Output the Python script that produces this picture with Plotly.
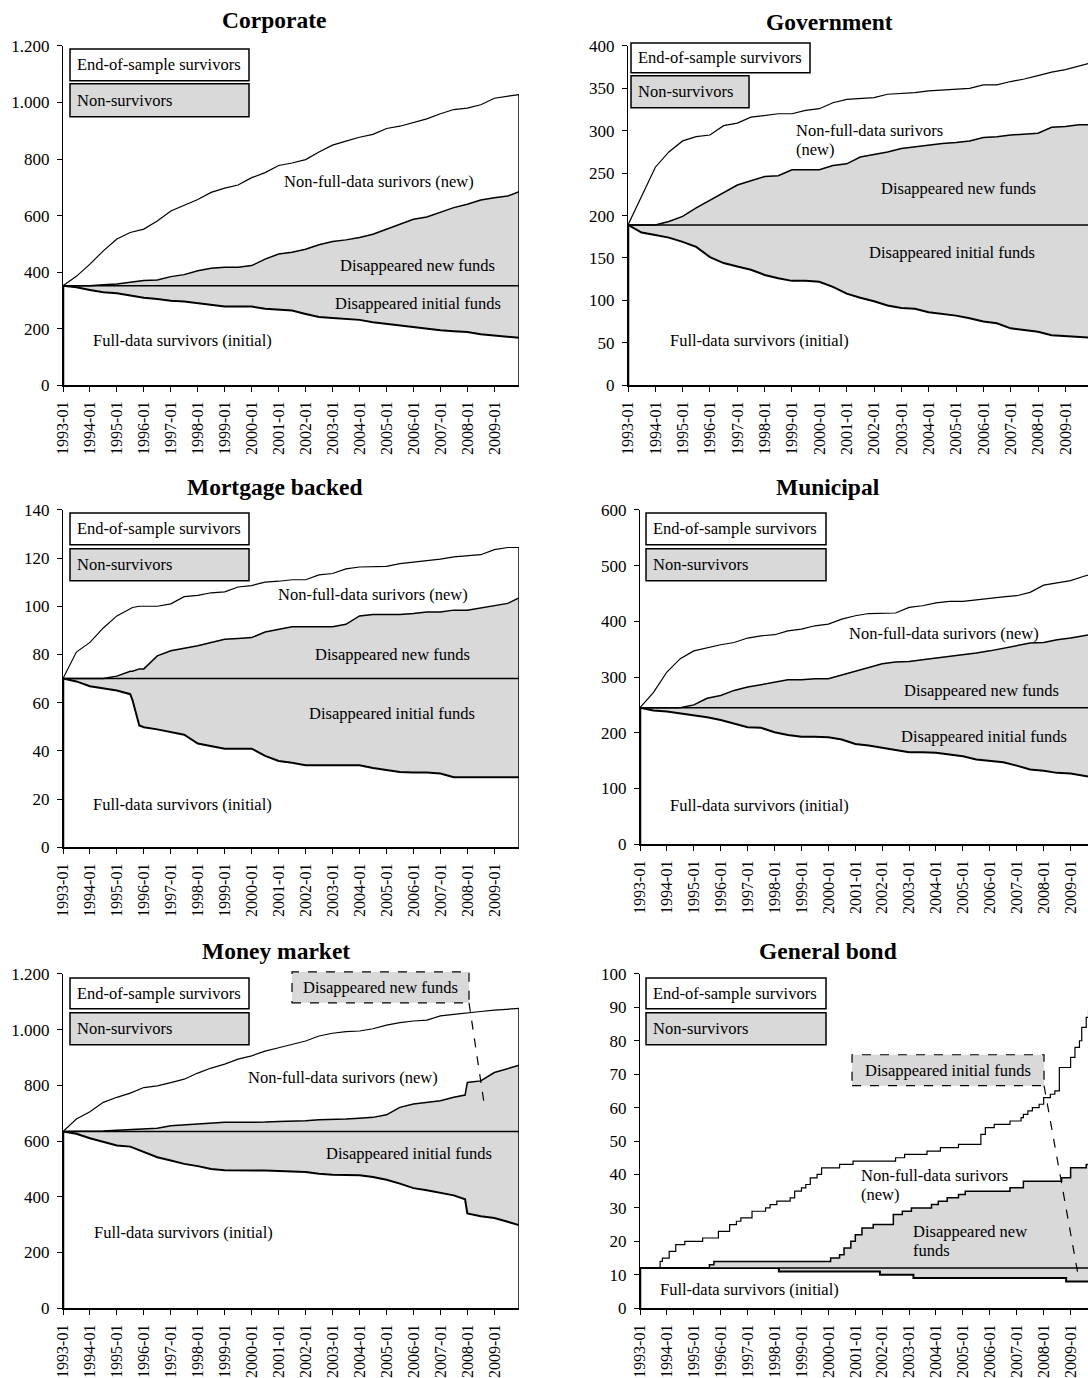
import plotly.graph_objects as go

W, H = 1088, 1378
FONT = "Liberation Serif"
GREY = "#d9d9d9"

# ---------------- shared categories ----------------
HALF_DATES = [f"{y}-{m:02d}" for y in range(1993, 2010) for m in (1, 7)] + ["2009-12"]
TICK_YEARS = list(range(1993, 2010))
TICK_DATES = [f"{y}-01-01" for y in TICK_YEARS]
TICK_TEXT = [f"{y}-01" for y in TICK_YEARS]

# ---------------- Corporate ----------------
CORP_DATES = HALF_DATES
CORP_INITIAL = 352
CORP_TOP = [352, 385, 428, 475, 517, 540, 552, 581, 616, 637, 657, 682, 697, 708, 734, 752, 777,
            786, 798, 825, 849, 863, 877, 887, 908, 916, 928, 942, 960, 975, 980, 992, 1015, 1022, 1028]
CORP_MID = [352, 352, 352, 355, 358, 364, 370, 372, 384, 391, 405, 414, 417, 417, 423, 446, 464,
            470, 481, 497, 508, 514, 522, 534, 552, 569, 587, 595, 611, 628, 640, 655, 663, 669, 684]
CORP_LOW = [352, 346, 337, 329, 325, 317, 309, 305, 299, 296, 290, 282, 278, 278, 278, 270, 268,
            264, 252, 241, 238, 235, 231, 223, 217, 211, 205, 200, 194, 191, 188, 180, 176, 170, 168]
CORP_YTICKS = [0, 200, 400, 600, 800, 1000, 1200]
CORP_YTEXT = ["0", "200", "400", "600", "800", "1.000", "1.200"]

# ---------------- Government ----------------
GOV_DATES = HALF_DATES
GOV_INITIAL = 189
GOV_TOP = [189, 222, 257, 275, 288, 293, 295, 306, 309, 316, 318, 320, 320, 324, 326, 333, 337,
           338, 339, 343, 344, 345, 347, 348, 349, 350, 354, 354, 358, 361, 365, 369, 372, 376, 380]
GOV_MID = [189, 189, 189, 193, 199, 209, 218, 227, 236, 241, 246, 247, 254, 254, 254, 259, 261,
           269, 272, 275, 279, 281, 283, 285, 286, 288, 292, 293, 295, 296, 297, 304, 305, 307, 307]
GOV_LOW = [189, 180, 177, 174, 169, 163, 151, 144, 140, 136, 130, 126, 123, 123, 122, 116, 108,
           103, 99, 94, 91, 90, 86, 84, 82, 79, 75, 73, 67, 65, 63, 59, 58, 57, 56]
GOV_YTICKS = [0, 50, 100, 150, 200, 250, 300, 350, 400]
GOV_YTEXT = ["0", "50", "100", "150", "200", "250", "300", "350", "400"]

# ---------------- Mortgage backed ----------------
MBS_DATES = HALF_DATES[:6] + ["1995-08", "1995-11"] + HALF_DATES[6:]
MBS_INITIAL = 70
MBS_TOP = [70, 81, 85, 91, 96, 99, 99.5, 100, 100, 100, 101, 104, 104.5, 105.6, 106, 108, 108.6,
           110, 110.4, 111, 111, 113, 113.6, 115.5, 116.3, 116.3, 116.6, 117.7, 118.3, 118.7,
           119.6, 120.5, 121, 121.4, 123.5, 124.4, 124.4]
MBS_MID = [70, 70, 70, 70, 71, 73, 73, 74, 74, 79.4, 81.5, 82.5, 83.6, 85, 86.3, 86.6, 87, 89.3,
           90.4, 91.5, 91.5, 91.5, 91.5, 92.5, 96, 96.6, 96.6, 96.6, 97, 97.6, 97.6, 98.4, 98.4,
           99.4, 100.4, 101.2, 103.5]
MBS_LOW = [70, 68.8, 66.8, 66, 65, 63.5, 61, 50.5, 49.8, 48.9, 47.8, 46.7, 43, 42, 40.9, 40.9,
           40.9, 37.9, 35.8, 35, 34, 34, 34, 34, 34, 32.9, 31.9, 31.2, 31, 31, 30.6, 29, 29, 29,
           29, 29, 29]
MBS_YTICKS = [0, 20, 40, 60, 80, 100, 120, 140]
MBS_YTEXT = ["0", "20", "40", "60", "80", "100", "120", "140"]

# ---------------- Municipal ----------------
MUN_DATES = HALF_DATES
MUN_INITIAL = 245
MUN_TOP = [245, 272, 309, 333, 347, 353, 358, 362, 370, 374, 376, 383, 386, 392, 395, 404, 410,
           414, 415, 415, 425, 428, 433, 436, 436, 439, 441, 444, 446, 452, 465, 469, 473, 481, 487]
MUN_MID = [245, 245, 245, 245, 250, 262, 267, 276, 282, 286, 291, 295, 295, 297, 297, 304, 310,
           318, 324, 327, 328, 331, 334, 336, 340, 343, 347, 352, 356, 361, 362, 367, 370, 375, 378]
MUN_LOW = [245, 240, 238, 235, 231, 228, 223, 216, 210, 209, 201, 196, 193, 193, 192, 188, 180,
           177, 173, 170, 165, 165, 164, 161, 158, 152, 149, 147, 141, 134, 132, 128, 127, 122, 119]
MUN_YTICKS = [0, 100, 200, 300, 400, 500, 600]
MUN_YTEXT = ["0", "100", "200", "300", "400", "500", "600"]

# ---------------- Money market ----------------
MM_DATES = HALF_DATES[:30] + ["2007-12"] + HALF_DATES[30:]
MM_INITIAL = 634
MM_TOP = [634, 679, 705, 739, 757, 772, 792, 798, 810, 822, 844, 862, 876, 894, 906, 923, 935,
          947, 959, 977, 987, 993, 995, 1003, 1016, 1025, 1031, 1034, 1049, 1055, 1060, 1061,
          1065, 1070, 1072, 1076]
MM_MID = [634, 634, 634, 636, 639, 641, 643, 646, 655, 658, 661, 665, 667, 667, 667, 668, 670,
          671, 673, 676, 677, 679, 682, 685, 694, 721, 733, 739, 745, 757, 765, 810, 816, 846,
          860, 872]
MM_LOW = [634, 626, 610, 598, 584, 580, 560, 542, 530, 518, 510, 500, 495, 495, 495, 494, 492,
          491, 489, 483, 479, 478, 477, 471, 461, 447, 431, 423, 415, 405, 391, 340, 330, 324,
          310, 298]
MM_YTICKS = CORP_YTICKS
MM_YTEXT = CORP_YTEXT

# ---------------- General bond (step data) ----------------
GB_INITIAL = 12
GB_TOP_DATES = ["1993-01", "1993-10", "1993-11", "1994-02", "1994-05", "1994-09", "1995-05",
                "1995-12", "1996-05", "1996-08", "1996-10", "1997-03", "1997-09", "1997-11",
                "1998-02", "1998-08", "1998-10", "1999-01", "1999-03", "1999-05", "1999-08",
                "1999-10", "2000-06", "2000-12", "2002-07", "2002-11", "2003-09", "2004-03",
                "2004-11", "2005-09", "2005-11", "2006-03", "2006-10", "2007-03", "2007-04",
                "2007-06", "2007-08", "2007-11", "2008-01", "2008-04", "2008-06", "2008-08",
                "2009-01", "2009-03", "2009-05", "2009-06", "2009-08", "2009-09", "2009-12"]
GB_TOP = [12, 14, 15, 17, 19, 20, 21, 23, 25, 26, 27, 29, 30, 31, 32, 33, 35, 36, 37, 39, 40, 42,
          43, 44, 45, 46, 47, 48, 49, 52, 54, 55, 56, 57, 58, 59, 60, 61, 63, 64, 65, 72, 75, 78,
          80, 84, 87, 89, 92]
GB_MID_DATES = ["1993-01", "1995-08", "1995-10", "2000-02", "2000-06", "2000-08", "2000-11",
                "2001-01", "2001-04", "2001-09", "2002-06", "2002-10", "2003-02", "2003-11",
                "2004-02", "2004-06", "2004-11", "2005-02", "2006-10", "2007-04", "2008-09",
                "2009-01", "2009-08", "2009-12"]
GB_MID = [12, 13, 14, 15, 16, 18, 20, 22, 24, 25, 28, 29, 30, 31, 32, 33, 34, 35, 36, 38, 39, 42,
          43, 44]
GB_LOW_DATES = ["1993-01", "1998-03", "2001-12", "2003-03", "2008-11", "2009-12"]
GB_LOW = [12, 11, 10, 9, 8, 8]
GB_YTICKS = list(range(0, 101, 10))
GB_YTEXT = [str(v) for v in GB_YTICKS]

LEG1 = "End-of-sample survivors"
LEG2 = "Non-survivors"

# positions below are given in reference-picture pixels and mapped to paper space
OX, OY, SX, SY = 8.0, 8.0, 0.9917, 0.9869


def px(x):
    return min(1.0, max(0.0, (x - OX) / SX / W))


def py(y):
    return min(1.0, max(0.0, 1 - (y - OY) / SY / H))


panels = [
    dict(title="Corporate", title_xy=(273, 19), init=CORP_INITIAL, shape="linear",
         low=(CORP_DATES, CORP_LOW), mid=(CORP_DATES, CORP_MID), top=(CORP_DATES, CORP_TOP),
         xdom=(62, 518), ydom=(45, 385), xend="2009-12-01", ymax=1200,
         yt=(CORP_YTICKS, CORP_YTEXT), leg=(69, 248, 248, 48, 80, 83, 116),
         labels=[("Non-full-data surivors (new)", 281, 181),
                 ("Disappeared new funds", 337, 265),
                 ("Disappeared initial funds", 332, 303),
                 ("Full-data survivors (initial)", 90, 340)]),
    dict(title="Government", title_xy=(828, 21), init=GOV_INITIAL, shape="linear",
         low=(GOV_DATES, GOV_LOW), mid=(GOV_DATES, GOV_MID), top=(GOV_DATES, GOV_TOP),
         xdom=(627, 1088), ydom=(45, 385), xend="2009-10-30", ymax=400,
         yt=(GOV_YTICKS, GOV_YTEXT), leg=(630, 809, 748, 42, 72, 75, 107),
         labels=[("Non-full-data surivors", 793, 130),
                 ("(new)", 793, 149),
                 ("Disappeared new funds", 878, 188),
                 ("Disappeared initial funds", 866, 252),
                 ("Full-data survivors (initial)", 667, 340)]),
    dict(title="Mortgage backed", title_xy=(274, 487), init=MBS_INITIAL, shape="linear",
         low=(MBS_DATES, MBS_LOW), mid=(MBS_DATES, MBS_MID), top=(MBS_DATES, MBS_TOP),
         xdom=(62, 518), ydom=(510, 848), xend="2009-12-01", ymax=140,
         yt=(MBS_YTICKS, MBS_YTEXT), leg=(69, 248, 248, 513, 545, 549, 581),
         labels=[("Non-full-data surivors (new)", 275, 595),
                 ("Disappeared new funds", 312, 655),
                 ("Disappeared initial funds", 306, 714),
                 ("Full-data survivors (initial)", 90, 805)]),
    dict(title="Municipal", title_xy=(827, 487), init=MUN_INITIAL, shape="linear",
         low=(MUN_DATES, MUN_LOW), mid=(MUN_DATES, MUN_MID), top=(MUN_DATES, MUN_TOP),
         xdom=(639, 1088), ydom=(510, 845), xend="2009-08-25", ymax=600,
         yt=(MUN_YTICKS, MUN_YTEXT), leg=(645, 825, 825, 513, 545, 549, 581),
         labels=[("Non-full-data surivors (new)", 846, 634),
                 ("Disappeared new funds", 901, 691),
                 ("Disappeared initial funds", 898, 737),
                 ("Full-data survivors (initial)", 667, 806)]),
    dict(title="Money market", title_xy=(275, 952), init=MM_INITIAL, shape="linear",
         low=(MM_DATES, MM_LOW), mid=(MM_DATES, MM_MID), top=(MM_DATES, MM_TOP),
         xdom=(62, 518), ydom=(975, 1310), xend="2009-12-01", ymax=1200,
         yt=(MM_YTICKS, MM_YTEXT), leg=(69, 248, 248, 979, 1010, 1014, 1046),
         labels=[("Non-full-data surivors (new)", 245, 1079),
                 ("Disappeared initial funds", 323, 1155),
                 ("Full-data survivors (initial)", 91, 1234)],
         callout=("Disappeared new funds", 291, 468, 973, 1004, 484, 1111)),
    dict(title="General bond", title_xy=(827, 952), init=GB_INITIAL, shape="hv",
         low=(GB_LOW_DATES, GB_LOW), mid=(GB_MID_DATES, GB_MID), top=(GB_TOP_DATES, GB_TOP),
         xdom=(639, 1088), ydom=(975, 1310), xend="2009-08-25", ymax=100,
         yt=(GB_YTICKS, GB_YTEXT), leg=(645, 825, 825, 979, 1010, 1014, 1046),
         labels=[("Non-full-data surivors", 858, 1177),
                 ("(new)", 858, 1196),
                 ("Disappeared new", 910, 1233),
                 ("funds", 910, 1252),
                 ("Full-data survivors (initial)", 657, 1291)],
         callout=("Disappeared initial funds", 851, 1043, 1056, 1087, 1078, 1282)),
]

fig = go.Figure()
annotations = []
shapes = []
axes = {}
TXT = dict(family=FONT, size=16.5, color="black")

for i, p in enumerate(panels, start=1):
    xa = "x" if i == 1 else f"x{i}"
    ya = "y" if i == 1 else f"y{i}"
    common = dict(xaxis=xa, yaxis=ya, showlegend=False, hoverinfo="skip", mode="lines")
    d_low, v_low = p["low"]
    d_mid, v_mid = p["mid"]
    d_top, v_top = p["top"]
    first, last = d_low[0], d_low[-1]
    fig.add_trace(go.Scatter(x=d_low, y=v_low, line=dict(color="black", width=2, shape=p["shape"]), **common))
    fig.add_trace(go.Scatter(x=[first, last], y=[p["init"], p["init"]], fill="tonexty", fillcolor=GREY,
                             line=dict(color="black", width=1.5), **common))
    fig.add_trace(go.Scatter(x=d_mid, y=v_mid, fill="tonexty", fillcolor=GREY,
                             line=dict(color="black", width=1.5, shape=p["shape"]), **common))
    fig.add_trace(go.Scatter(x=d_top, y=v_top, line=dict(color="black", width=1.2, shape=p["shape"]), **common))
    # outline edges of the stacked areas
    fig.add_trace(go.Scatter(x=[first, first], y=[0, p["init"]], line=dict(color="black", width=2.5), **common))
    fig.add_trace(go.Scatter(x=[d_top[-1], d_top[-1]], y=[0, v_top[-1]], line=dict(color="black", width=1.5), **common))

    xk = "xaxis" if i == 1 else f"xaxis{i}"
    yk = "yaxis" if i == 1 else f"yaxis{i}"
    axes[xk] = dict(domain=[px(p["xdom"][0]), px(p["xdom"][1])], anchor=ya, type="date",
                    range=["1993-01-01", p["xend"]], tickmode="array", tickvals=TICK_DATES,
                    ticktext=TICK_TEXT, tickangle=-90, ticks="outside", ticklen=5, tickwidth=1,
                    tickcolor="black", showline=True, linecolor="black", linewidth=2,
                    showgrid=False, zeroline=False, fixedrange=True, ticklabelstandoff=3,
                    tickfont=dict(family=FONT, size=16, color="black"))
    axes[yk] = dict(domain=[py(p["ydom"][1]), py(p["ydom"][0])], anchor=xa, range=[0, p["ymax"]],
                    tickmode="array", tickvals=p["yt"][0], ticktext=p["yt"][1], ticks="outside",
                    ticklen=5, tickwidth=1, tickcolor="black", showline=True, linecolor="black",
                    linewidth=1, showgrid=False, zeroline=False, fixedrange=True,
                    ticklabelstandoff=4, tickfont=dict(family=FONT, size=17, color="black"))

    tx, ty = p["title_xy"]
    annotations.append(dict(text=f"<b>{p['title']}</b>", x=px(tx), y=py(ty), xref="paper", yref="paper",
                            xanchor="center", yanchor="middle", showarrow=False,
                            font=dict(family=FONT, size=23.5, color="black")))
    lx0, lx1a, lx1b, b1t, b1b, b2t, b2b = p["leg"]
    shapes.append(dict(type="rect", xref="paper", yref="paper", x0=px(lx0), x1=px(lx1a), y0=py(b1b), y1=py(b1t),
                       line=dict(color="black", width=1.5), fillcolor="white"))
    shapes.append(dict(type="rect", xref="paper", yref="paper", x0=px(lx0), x1=px(lx1b), y0=py(b2b), y1=py(b2t),
                       line=dict(color="black", width=1.5), fillcolor=GREY))
    annotations.append(dict(text=LEG1, x=px(lx0 + 5), y=py((b1t + b1b) / 2), xref="paper", yref="paper",
                            xanchor="left", yanchor="middle", showarrow=False, font=TXT))
    annotations.append(dict(text=LEG2, x=px(lx0 + 5), y=py((b2t + b2b) / 2), xref="paper", yref="paper",
                            xanchor="left", yanchor="middle", showarrow=False, font=TXT))
    for text, lx, ly in p["labels"]:
        annotations.append(dict(text=text, x=px(lx), y=py(ly), xref="paper", yref="paper",
                                xanchor="left", yanchor="middle", showarrow=False, font=TXT))
    if "callout" in p:
        text, cx0, cx1, cy0, cy1, ex, ey = p["callout"]
        shapes.append(dict(type="rect", xref="paper", yref="paper", x0=px(cx0), x1=px(cx1), y0=py(cy1), y1=py(cy0),
                           line=dict(color="black", width=1.2, dash="dash"), fillcolor=GREY))
        shapes.append(dict(type="line", xref="paper", yref="paper", x0=px(cx1), y0=py(cy1), x1=px(ex), y1=py(ey),
                           line=dict(color="black", width=1.2, dash="dash")))
        annotations.append(dict(text=text, x=px((cx0 + cx1) / 2), y=py((cy0 + cy1) / 2), xref="paper", yref="paper",
                                xanchor="center", yanchor="middle", showarrow=False, font=TXT))

fig.update_layout(width=W, height=H, margin=dict(l=0, r=0, t=0, b=0), paper_bgcolor="white",
                  plot_bgcolor="white", showlegend=False, annotations=annotations, shapes=shapes,
                  font=dict(family=FONT, color="black"), **axes)

PAGE_JS = ("document.documentElement.style.margin='0';document.documentElement.style.padding='0';"
           "document.documentElement.style.overflow='hidden';"
           "document.body.style.margin='0';document.body.style.padding='0';"
           "document.body.style.overflow='hidden';"
           "var d=document.getElementById('{plot_id}');"
           "d.style.position='absolute';d.style.left='0px';d.style.top='0px';")

fig.write_html("out.html", config={"displayModeBar": False, "staticPlot": True}, post_script=PAGE_JS)
